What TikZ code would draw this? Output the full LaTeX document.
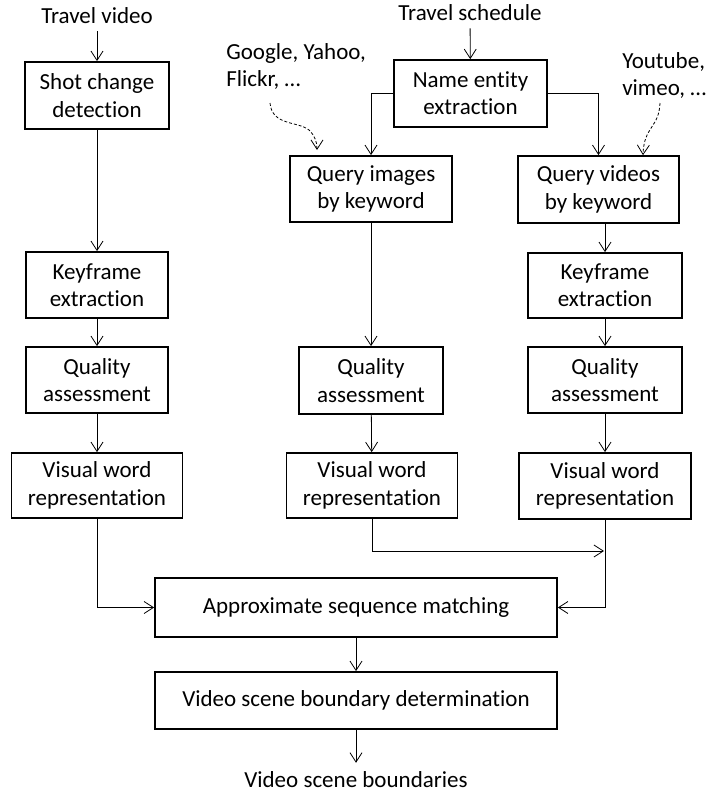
\documentclass[tikz,border=0pt]{standalone}
\usepackage{fontspec}
\setmainfont{Carlito}[RawFeature=-liga]
\usetikzlibrary{arrows.meta}
\begin{document}
\begin{tikzpicture}[x=0.75pt,y=-0.75pt,
  font=\fontsize{17.25pt}{20.5pt}\selectfont,
  box/.style={draw, line width=1.3pt, align=center, inner sep=0pt},
  conn/.style={line width=0.6pt, -{Straight Barb[length=7pt,width=9pt]}},
  hint/.style={conn, dash pattern=on 2.2pt off 1.5pt},
  lbl/.style={inner xsep=0pt, inner ysep=6pt},
  src/.style={inner sep=0pt, align=left, anchor=north west}]
\useasboundingbox (0,0) rectangle (709,793);

% inputs and sources
\node[lbl, anchor=base] (tv) at (97,23) {Travel video};
\node[lbl, anchor=base] (ts) at (470,20) {Travel schedule};
\node[src] (web) at (226,43) {Google, Yahoo,\\Flickr, …};
\node[src] (vid) at (622,52) {Youtube,\\vimeo, …};

% left branch: the travel video itself
\node[box, minimum width=108pt, minimum height=50.25pt] (shot) at (97,95.5) {Shot change\\detection};
\node[box, minimum width=106.5pt, minimum height=49.5pt] (kf1) at (97,285) {Keyframe\\extraction};
\node[box, minimum width=106.5pt, minimum height=49.5pt] (qa1) at (97,380) {Quality\\assessment};
\node[box, minimum width=128.25pt, minimum height=48.75pt] (vw1) at (97,485.5) {Visual word\\representation};

% schedule branch
\node[box, minimum width=114.75pt, minimum height=50.25pt] (ne) at (470.5,93.5) {Name entity\\extraction};

% middle branch: web images
\node[box, minimum width=121.5pt, minimum height=49.5pt] (qi) at (371,189) {Query images\\by keyword};
\node[box, minimum width=108pt, minimum height=50.25pt] (qa2) at (371,380.5) {Quality\\assessment};
\node[box, minimum width=128.25pt, minimum height=48.75pt] (vw2) at (372,485.5) {Visual word\\representation};

% right branch: web videos
\node[box, minimum width=120.75pt, minimum height=50.25pt] (qv) at (598.5,189.5) {Query videos\\by keyword};
\node[box, minimum width=115.5pt, minimum height=48.75pt] (kf2) at (605,285.5) {Keyframe\\extraction};
\node[box, minimum width=115.5pt, minimum height=49.5pt] (qa3) at (605,380) {Quality\\assessment};
\node[box, minimum width=129pt, minimum height=49.5pt] (vw3) at (605,486) {Visual word\\representation};

% matching and output
\node[box, minimum width=301.5pt, minimum height=44.25pt] (ap) at (356,607.5) {Approximate sequence matching};
\node[box, minimum width=301.5pt, minimum height=42.75pt] (vsbd) at (356,700.5) {Video scene boundary determination};
\node[lbl, anchor=base] (out) at (356,787) {Video scene boundaries};

% connector helpers
\coordinate (web0) at (270,103);
\coordinate (web1) at (317,150);
\coordinate (vid0) at (660,103);
\coordinate (merge) at (604,551);

% connectors
\draw[conn] (tv) -- (shot);
\draw[conn] (shot) -- (kf1);
\draw[conn] (kf1) -- (qa1);
\draw[conn] (qa1) -- (vw1);
\draw[conn] (vw1.south) |- (ap.west);

\draw[conn] (ts) -- (ne);
\draw[conn] (ne.west) -| (qi.north);
\draw[conn] (ne.east) -| (qv.north);

\draw[conn] (qi.south) -- (qa2.north);
\draw[conn] (qa2) -- (vw2);
\draw[conn] (vw2.south) |- (merge);

\draw[conn] (qv.south -| kf2.north) -- (kf2.north);
\draw[conn] (kf2) -- (qa3);
\draw[conn] (qa3) -- (vw3);
\draw[conn] (vw3.south) |- (ap.east);

\draw[conn] (ap) -- (vsbd);
\draw[conn] (vsbd) -- (out);

% dashed hints from the web sources
\draw[hint] (web0) .. controls (272,126) and (298,121) .. (309,130)
                   .. controls (315,136) and (317,142) .. (web1);
\draw[hint] (vid0) .. controls (659,128) and (644,126) .. (qv.north -| 643,0);
\end{tikzpicture}
\end{document}
